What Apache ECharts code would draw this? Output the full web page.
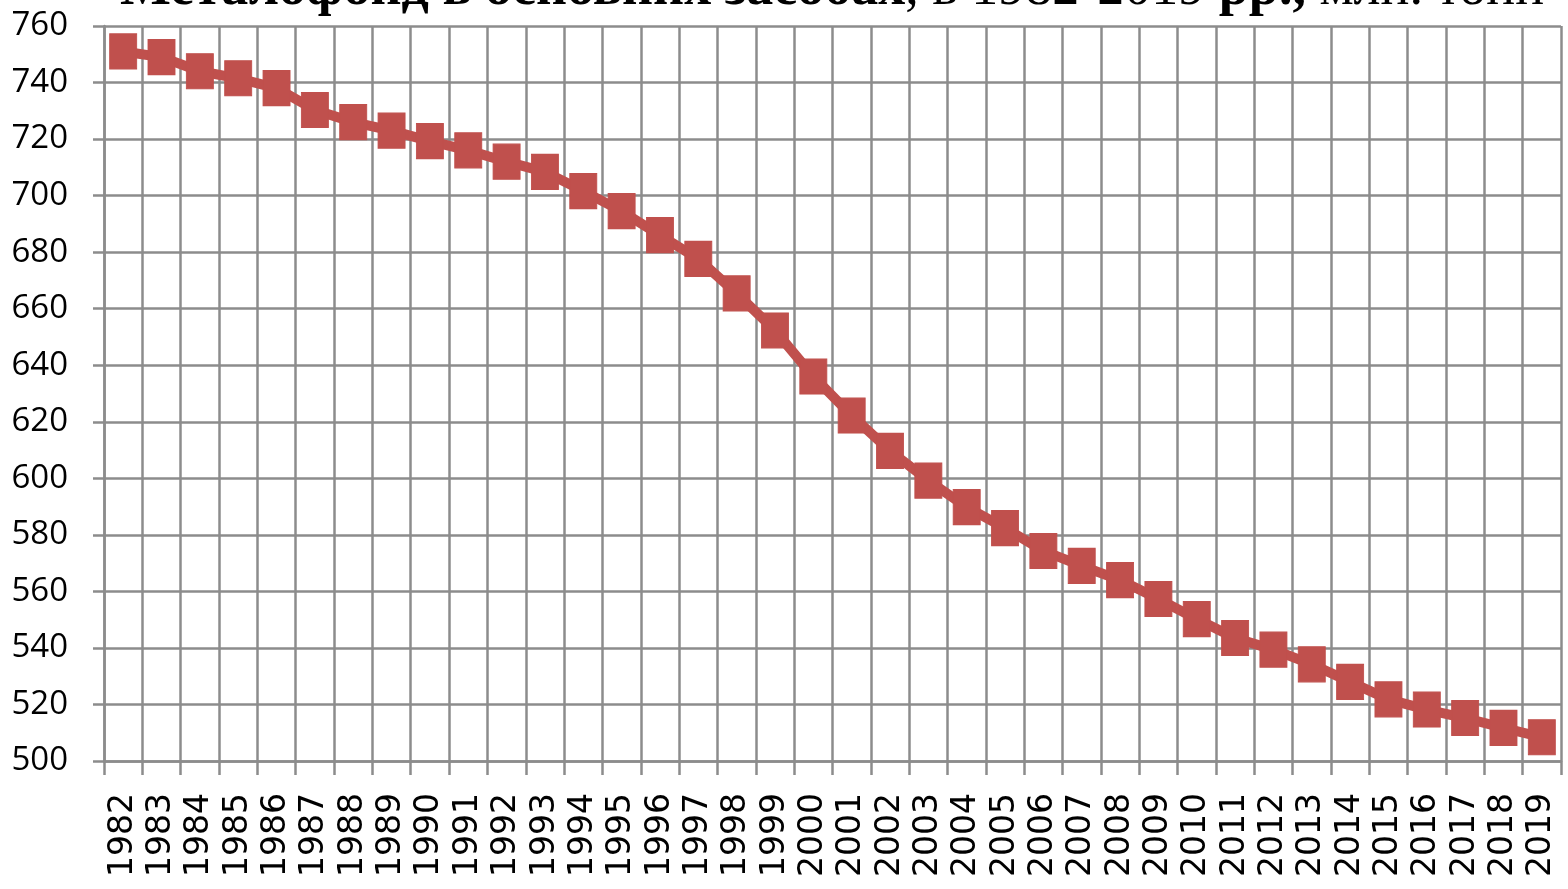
<!DOCTYPE html>
<html>
<head>
<meta charset="utf-8">
<script src="https://cdn.jsdelivr.net/npm/echarts@6/dist/echarts.min.js"></script>
<style>
html,body{margin:0;padding:0;background:#fff;}
#chart{width:1568px;height:889px;}
</style>
</head>
<body>
<div id="chart"></div>
<script>
const years = ['1982','1983','1984','1985','1986','1987','1988','1989','1990','1991','1992','1993','1994','1995','1996','1997','1998','1999','2000','2001','2002','2003','2004','2005','2006','2007','2008','2009','2010','2011','2012','2013','2014','2015','2016','2017','2018','2019'];
const values = [751,749,744,741.5,738,730.3,726,723,719.3,716,712,708.4,701.6,694.5,686,677.6,665.4,652.3,636,622.2,609.7,599.2,589.8,582.4,574.3,569,564,557.3,550.2,543.5,539.4,534.2,528,521.8,518.2,515.2,511.7,508.4];
const yTicks = {min:500, max:760, step:20};
const titleParts = ['Металофонд в основних засобах', ', в 1982-2019 ', 'рр.,', ' млн. тонн'];

const chart = echarts.init(document.getElementById('chart'));
const gridColor = '#8c8c8c';
chart.setOption({
  animation:false,
  backgroundColor:'#fff',
  graphic:[{
    type:'text',
    x:832,
    y:-37,
    style:{
      text:'{b|'+titleParts[0]+'}{n|'+titleParts[1]+'}{b|'+titleParts[2]+'}{n|'+titleParts[3]+'}',
      align:'center',
      verticalAlign:'top',
      rich:{
        b:{fontFamily:'Liberation Serif',fontWeight:'bold',fontSize:54,fill:'#000'},
        n:{fontFamily:'Liberation Serif',fontWeight:'normal',fontSize:54,fill:'#000'}
      }
    }
  }],
  grid:{left:104,right:7,top:26,bottom:128,containLabel:false},
  xAxis:{
    type:'category',
    data:years,
    boundaryGap:true,
    axisLine:{show:true,lineStyle:{color:gridColor,width:2.5}},
    axisTick:{show:true,length:14,interval:0,lineStyle:{color:gridColor,width:2.5}},
    splitLine:{show:true,interval:0,lineStyle:{color:gridColor,width:2.5}},
    axisLabel:{interval:0,rotate:90,margin:32,fontFamily:'DejaVu Sans',fontSize:33,color:'#000'}
  },
  yAxis:{
    type:'value',
    min:yTicks.min,max:yTicks.max,interval:yTicks.step,
    axisLine:{show:true,lineStyle:{color:gridColor,width:2.5}},
    axisTick:{show:true,length:11,lineStyle:{color:gridColor,width:2.5}},
    splitLine:{show:true,lineStyle:{color:gridColor,width:2.5}},
    axisLabel:{margin:36,fontFamily:'Open Sans',fontSize:33,color:'#000'}
  },
  series:[{
    type:'line',
    data:values,
    symbol:'rect',
    symbolSize:[27,35],
    lineStyle:{color:'#C0504D',width:10},
    itemStyle:{color:'#C0504D',borderColor:'#C0504D',borderWidth:1},
    z:5
  }]
});
</script>
</body>
</html>
